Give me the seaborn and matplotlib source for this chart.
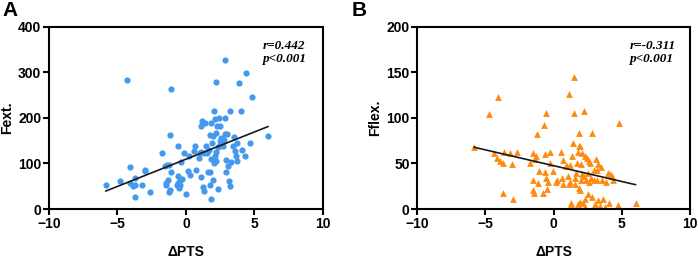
import numpy as np
import pandas as pd
import matplotlib
matplotlib.use("Agg")
import matplotlib.pyplot as plt
import seaborn as sns

sns.set_style("ticks")
plt.rcParams['font.family'] = ['Liberation Sans', 'DejaVu Sans']
plt.rcParams.update({"text.color": "black", "axes.labelcolor": "black",
                     "xtick.color": "black", "ytick.color": "black"})

# panel A: dPTS vs Fext.
pts_a = [-5.86, -4.79, -4.31, -4.11, -4.11, -3.87, -3.75, -3.7, -3.7, -3.2,
         -3.0, -3.0, -2.65, -1.73, -1.5, -1.39, -1.24, -1.48, -1.44, -1.31,
         -1.24, -1.19, -1.19, -1.12, -1.07, -0.63, -0.58, -0.58, -0.58, -0.54,
         -0.46, -0.46, -0.34, -0.27, -0.17, -0.02, 0.15, 0.22, 0.27, 0.56,
         0.63, 0.7, 0.95, 1.0, 1.07, 1.12, 1.12, 1.17, 1.24, 1.29,
         1.36, 1.34, 1.48, 1.53, 1.6, 1.68, 1.73, 1.73, 1.78, 1.8,
         1.85, 1.85, 1.92, 1.97, 1.97, 2.02, 2.04, 2.09, 2.14, 2.17,
         2.17, 2.21, 2.21, 2.26, 2.34, 2.34, 2.41, 2.46, 2.46, 2.51,
         2.58, 2.65, 2.7, 2.75, 2.82, 2.87, 2.87, 2.9, 2.94, 2.99,
         3.07, 3.11, 3.24, 3.24, 3.31, 3.43, 3.5, 3.6, 3.67, 3.72,
         3.72, 3.87, 4.04, 4.11, 4.28, 4.4, 4.7, 4.79, 6.0]
fext = [53, 61, 283, 92, 57, 50, 68, 26, 53, 52,
        86, 83, 37, 123, 94, 96, 97, 57, 52, 64,
        37, 41, 163, 264, 81, 53, 57, 139, 73, 46,
        64, 53, 103, 66, 123, 33, 84, 116, 75, 127,
        139, 86, 112, 122, 126, 70, 183, 193, 48, 39,
        189, 123, 138, 122, 81, 130, 81, 53, 163, 188,
        23, 110, 144, 161, 64, 101, 216, 197, 116, 278,
        105, 125, 167, 183, 43, 136, 201, 183, 141, 149,
        156, 145, 138, 152, 165, 328, 200, 107, 81, 165,
        94, 62, 51, 216, 103, 138, 158, 127, 116, 106,
        145, 277, 216, 130, 116, 299, 145, 246, 161]

# panel B: dPTS vs Fflex.
pts_b = [-5.85, -4.76, -4.1, -4.34, -4.15, -3.9, -3.7, -3.66, -3.7, -3.22,
         -3.05, -3.0, -2.68, -1.76, -1.54, -1.51, -1.51, -1.46, -1.39, -1.27,
         -1.22, -1.15, -1.1, -0.78, -0.68, -0.61, -0.61, -0.54, -0.54, -0.49,
         -0.44, -0.29, -0.24, -0.05, 0.17, 0.24, 0.54, 0.61, 0.68, 0.68,
         0.93, 0.98, 1.02, 1.1, 1.15, 1.17, 1.22, 1.27, 1.27, 1.34,
         1.41, 1.46, 1.46, 1.54, 1.59, 1.63, 1.71, 1.76, 1.78, 1.83,
         1.83, 1.88, 1.9, 1.95, 1.95, 2.0, 2.02, 2.07, 2.07, 2.15,
         2.2, 2.2, 2.27, 2.27, 2.32, 2.37, 2.44, 2.49, 2.51, 2.56,
         2.63, 2.68, 2.73, 2.8, 2.85, 2.93, 2.98, 3.05, 3.1, 3.17,
         3.22, 3.29, 3.29, 3.37, 3.46, 3.54, 3.66, 3.78, 3.83, 4.02,
         4.1, 4.15, 4.32, 4.39, 4.71, 4.83, 6.02]
fflex = [68, 104, 123, 61, 56, 53, 50, 63, 18, 62,
         49, 11, 63, 51, 61, 32, 21, 18, 55, 58,
         82, 29, 42, 18, 92, 60, 41, 105, 34, 22,
         30, 63, 51, 42, 30, 32, 63, 34, 54, 27,
         47, 47, 36, 27, 126, 30, 48, 7, 5, 58,
         73, 105, 145, 27, 34, 40, 51, 5, 63, 69,
         23, 84, 69, 8, 21, 32, 49, 61, 38, 7,
         108, 36, 58, 11, 2, 32, 56, 40, 16, 53,
         30, 51, 34, 84, 13, 43, 32, 6, 55, 43,
         32, 49, 10, 3, 46, 32, 11, 2, 30, 40,
         7, 38, 36, 32, 4, 95, 7]

df_a = pd.DataFrame({"dPTS": pts_a, "Fext": fext})
df_b = pd.DataFrame({"dPTS": pts_b, "Fflex": fflex})

fig = plt.figure(figsize=(6.99, 2.59), dpi=100)
ax1 = fig.add_axes([0.070, 0.193, 0.392, 0.703])
ax2 = fig.add_axes([0.597, 0.193, 0.390, 0.703])

sns.regplot(data=df_a, x="dPTS", y="Fext", ax=ax1, ci=None, marker="o",
            scatter_kws=dict(color="#4499ee", s=20, linewidths=0, alpha=1),
            line_kws=dict(color="#1a1a1a", lw=1.2))
sns.regplot(data=df_b, x="dPTS", y="Fflex", ax=ax2, ci=None, marker="^",
            scatter_kws=dict(color="#ff8a10", s=24, linewidths=0, alpha=1),
            line_kws=dict(color="#1a1a1a", lw=1.2))

for ax, ylab, ymax, ystep, txt in [
        (ax1, "Fext.", 400, 100, "r=0.442\np<0.001"),
        (ax2, "Fflex.", 200, 50, "r=-0.311\np<0.001")]:
    ax.set_xlim(-10, 10)
    ax.set_ylim(0, ymax)
    ax.set_xticks([-10, -5, 0, 5, 10])
    ax.set_yticks(np.arange(0, ymax + 1, ystep))
    for sp in ax.spines.values():
        sp.set_linewidth(1.5)
        sp.set_color("black")
    ax.tick_params(width=1.5, length=4, labelsize=10, pad=1.5)
    for lab in ax.get_xticklabels() + ax.get_yticklabels():
        lab.set_fontweight("bold")
    ax.set_xlabel("ΔPTS", fontsize=10, fontweight="bold", labelpad=10)
    ax.set_ylabel(ylab, fontsize=10, fontweight="bold", labelpad=3)
    ax.text(0.78, 0.86, txt, transform=ax.transAxes, ha="left", va="center",
            fontsize=9.5, fontweight="bold", style="italic",
            family=["Liberation Serif", "DejaVu Serif"], linespacing=1.05)

fig.text(0.004, 0.995, "A", fontsize=15, fontweight="bold", va="top")
fig.text(0.503, 0.995, "B", fontsize=15, fontweight="bold", va="top")

fig.savefig("out.png", dpi=100)
